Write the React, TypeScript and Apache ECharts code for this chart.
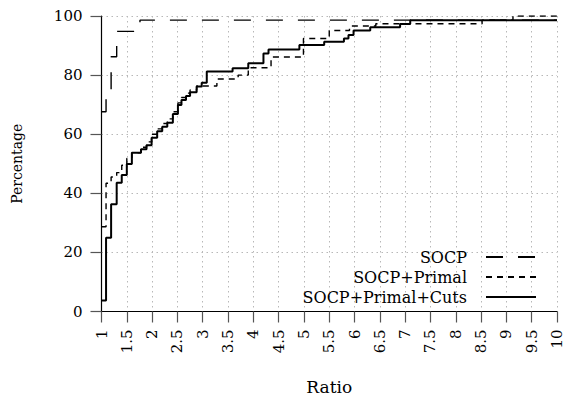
import React, { useEffect, useRef } from 'react';
import * as echarts from 'echarts';

const seriesNames = ['SOCP', 'SOCP+Primal', 'SOCP+Primal+Cuts'];

const socpRatio = [1, 1.09, 1.19, 1.3, 1.76, 10];
const socpPct = [67.6, 73, 86.2, 94.8, 98.6, 98.6];

const primalRatio = [1, 1.09, 1.19, 1.3, 1.4, 1.5, 1.6, 1.78, 1.89, 1.99, 2.1, 2.2, 2.3, 2.41, 2.51, 2.58, 2.67, 2.75, 2.88, 3.28, 3.7, 3.9, 4.35, 4.99, 5.5, 5.9, 6.42, 8.52, 9.13, 10];
const primalPct = [28.7, 43.4, 45.5, 47.0, 49.5, 51.8, 53.7, 55.6, 57.4, 60.0, 61.8, 63.6, 65.2, 67.6, 70.6, 72.4, 73.9, 75.0, 76.3, 78.7, 80.0, 82.5, 86.1, 92.4, 95.1, 96.6, 97.4, 98.6, 100, 100];

const cutsRatio = [1, 1.09, 1.19, 1.3, 1.4, 1.5, 1.6, 1.78, 1.89, 1.99, 2.1, 2.2, 2.3, 2.41, 2.51, 2.58, 2.67, 2.75, 2.88, 2.98, 3.08, 3.59, 3.9, 4.2, 4.3, 4.91, 5.4, 5.79, 5.88, 5.98, 6.31, 6.9, 7.1, 10];
const cutsPct = [3.7, 25.0, 36.3, 43.6, 46.2, 49.9, 53.7, 54.9, 56.3, 58.8, 61.0, 62.5, 63.9, 66.8, 69.9, 71.6, 72.9, 74.2, 76.1, 77.4, 81.2, 82.3, 84.0, 87.3, 88.7, 90.2, 91.3, 92.4, 93.6, 95.1, 96.2, 97.3, 98.6, 98.6];

const font = 'DejaVu Serif';

const pairs = (xs: number[], ys: number[]) => xs.map((x, i) => [x, ys[i]]);

export default function App() {
  const ref = useRef<HTMLDivElement>(null);
  useEffect(() => {
    const chart = echarts.init(ref.current!, null, { renderer: 'svg' });
    const grid = { lineStyle: { type: [1.5, 3.5], color: '#b8b8b8', width: 1 } };
    chart.setOption({
      animation: false,
      backgroundColor: '#fff',
      textStyle: { fontFamily: font },
      grid: { left: 101.5, right: 8, top: 16, bottom: 92.5 },
      xAxis: {
        type: 'value', min: 1, max: 10, interval: 0.5,
        name: 'Ratio', nameLocation: 'middle', nameGap: 67,
        nameTextStyle: { fontFamily: font, fontSize: 17, color: '#000' },
        axisLine: { show: true, onZero: false, lineStyle: { color: '#000', width: 1.2 } },
        axisTick: { show: true, length: 11, lineStyle: { color: '#555', width: 1.2 } },
        axisLabel: { rotate: 90, margin: 18, fontFamily: font, fontSize: 15, color: '#000' },
        splitLine: { show: true, ...grid },
      },
      yAxis: {
        type: 'value', min: 0, max: 100, interval: 20,
        name: 'Percentage', nameLocation: 'middle', nameGap: 78, nameRotate: 90,
        nameTextStyle: { fontFamily: font, fontSize: 14, color: '#000' },
        axisLine: { show: true, lineStyle: { color: '#000', width: 1.2 } },
        axisTick: { show: true, length: 11, lineStyle: { color: '#555', width: 1.2 } },
        axisLabel: { margin: 19, fontFamily: font, fontSize: 15, color: '#000' },
        splitLine: { show: true, ...grid },
      },
      legend: {
        data: seriesNames,
        orient: 'vertical',
        align: 'right',
        right: 28,
        top: 247,
        padding: 0,
        itemWidth: 50,
        itemHeight: 10,
        itemGap: 0,
        itemStyle: { opacity: 0 },
        textStyle: { fontFamily: font, fontSize: 16, color: '#000', lineHeight: 20, padding: [0, 14, 0, 0] },
      },
      series: [
        {
          name: seriesNames[0], type: 'line', step: 'end', symbol: 'none',
          data: pairs(socpRatio, socpPct),
          lineStyle: { color: '#000', width: 1.4, type: [17, 15] },
          itemStyle: { color: '#000' },
        },
        {
          name: seriesNames[1], type: 'line', step: 'end', symbol: 'none',
          data: pairs(primalRatio, primalPct),
          lineStyle: { color: '#000', width: 1.4, type: [6, 5] },
          itemStyle: { color: '#000' },
        },
        {
          name: seriesNames[2], type: 'line', step: 'end', symbol: 'none',
          data: pairs(cutsRatio, cutsPct),
          lineStyle: { color: '#000', width: 2 },
          itemStyle: { color: '#000' },
        },
      ],
    });
    return () => chart.dispose();
  }, []);
  return <div ref={ref} style={{ position: 'fixed', left: 0, top: 0, width: 565, height: 404 }} />;
}
